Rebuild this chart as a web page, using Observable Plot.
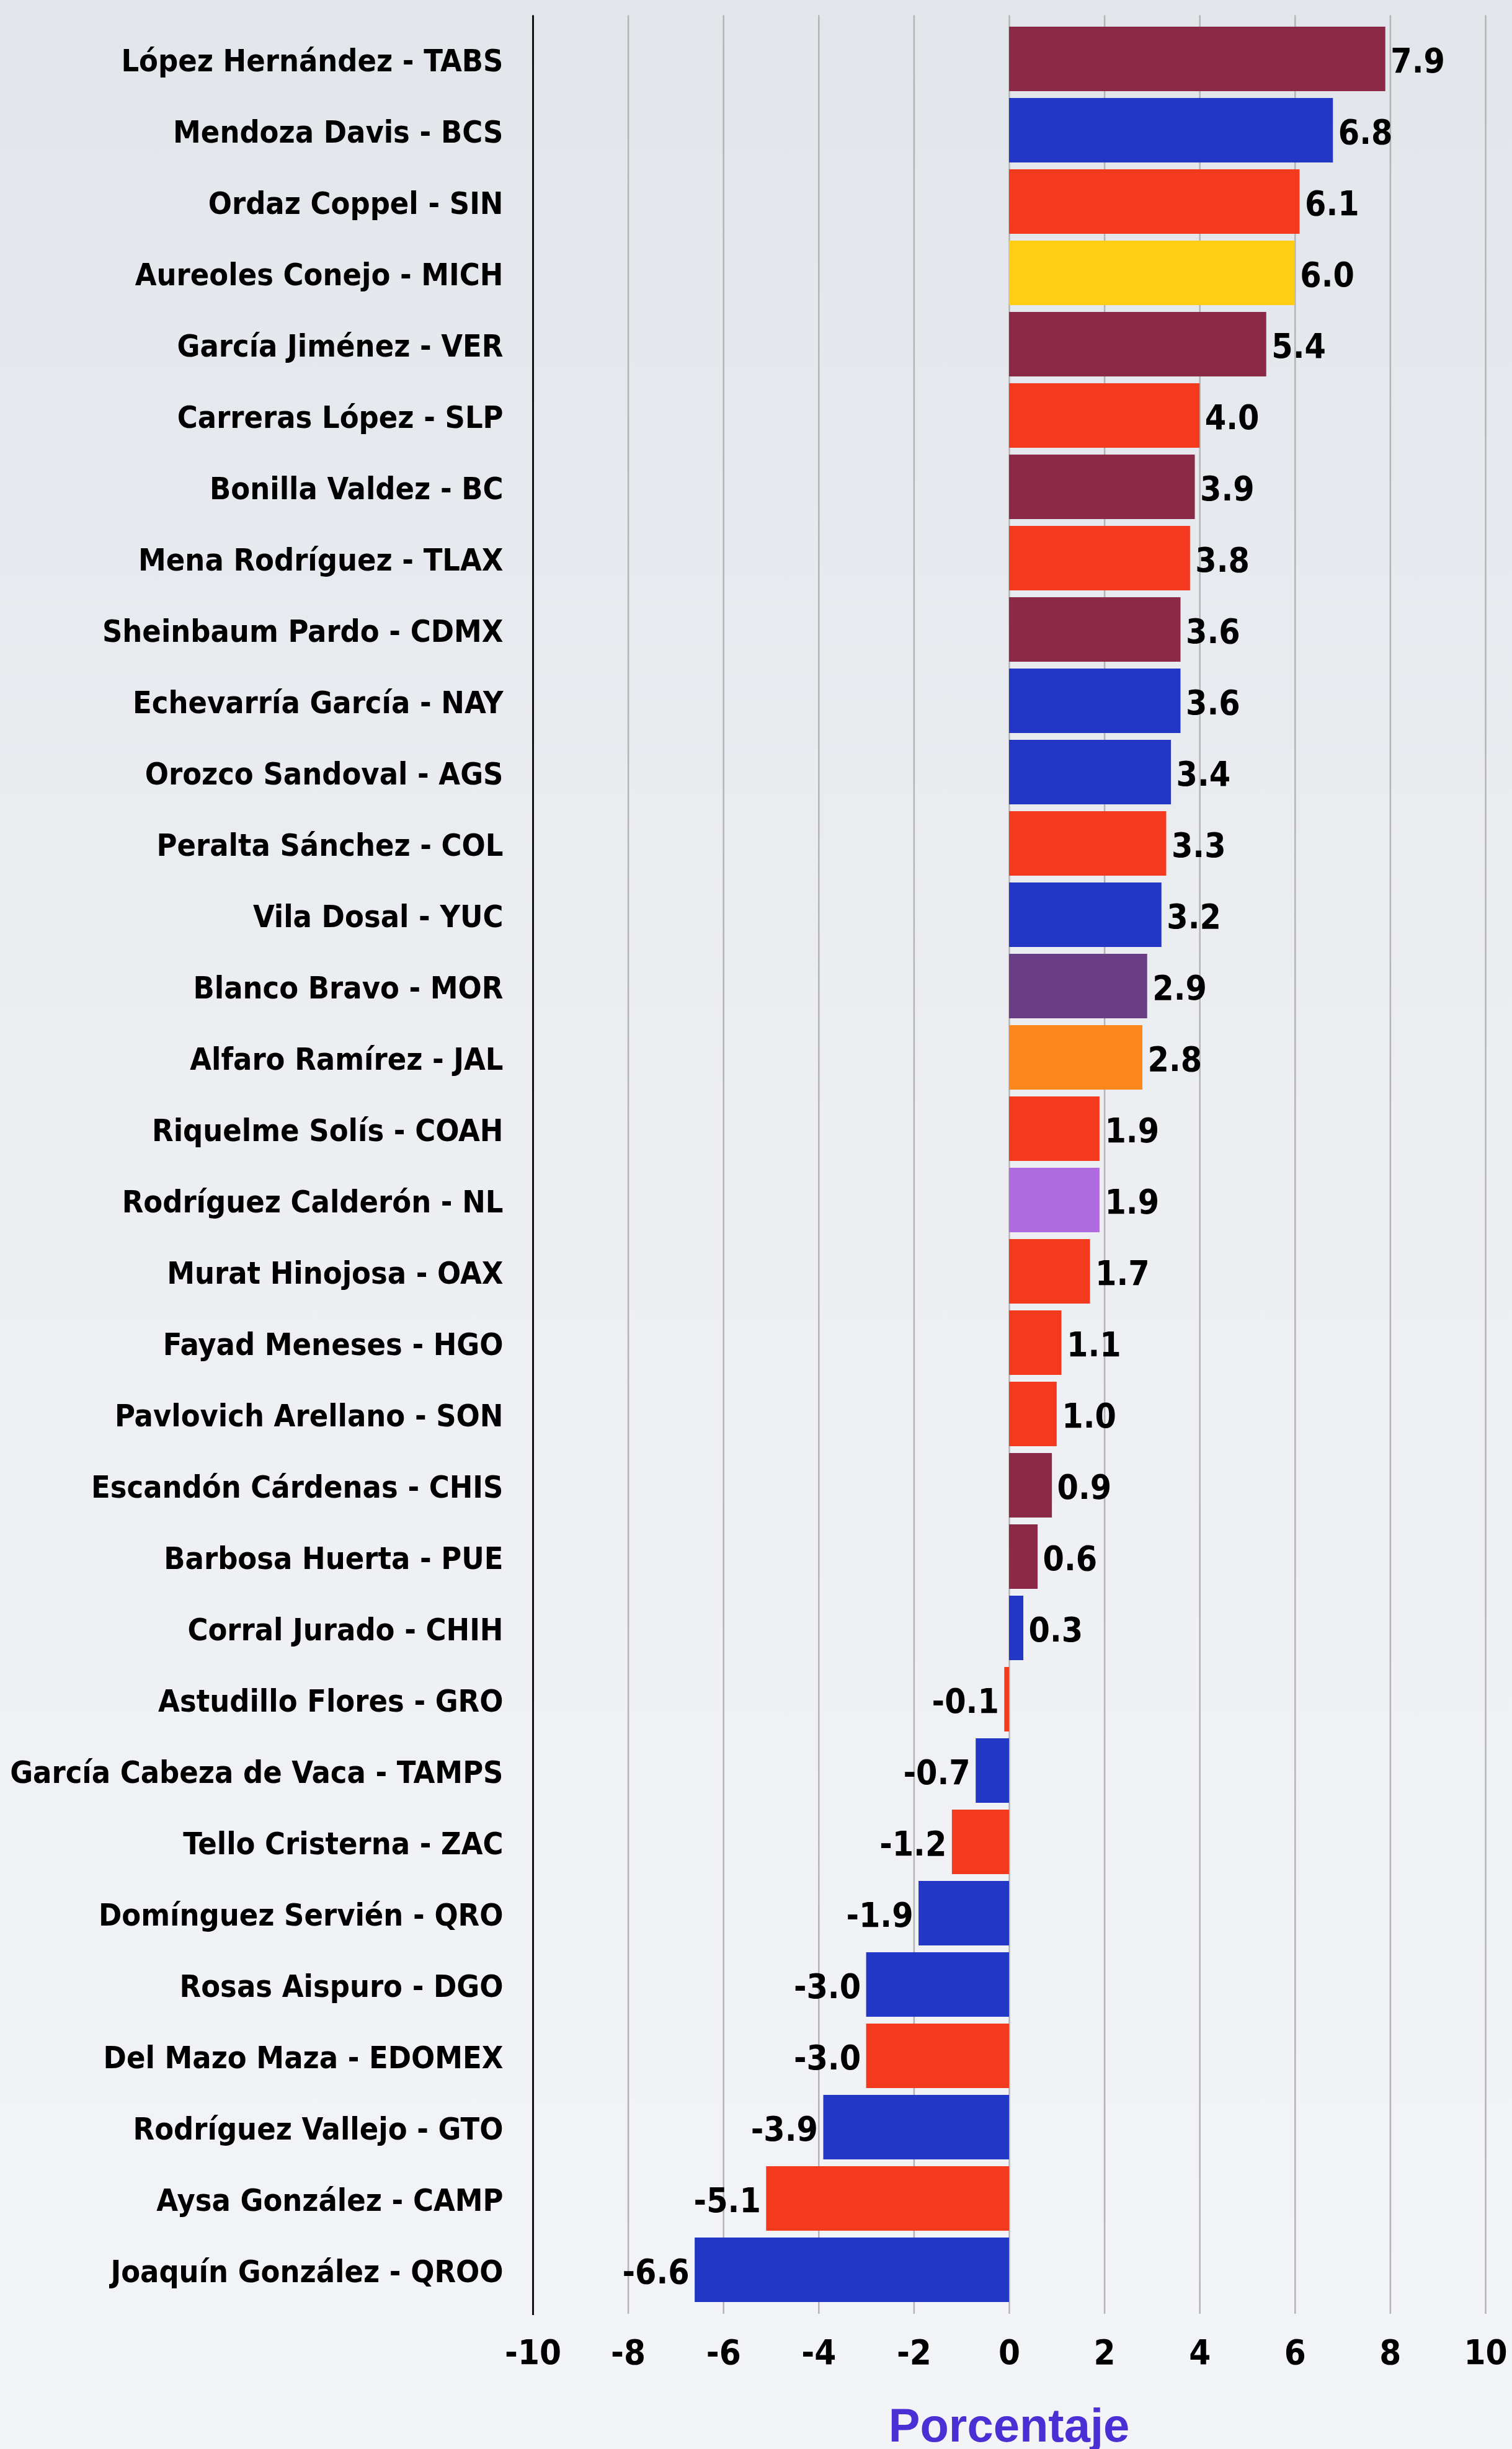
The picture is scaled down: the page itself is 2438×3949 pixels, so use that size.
<!DOCTYPE html>
<html>
<head>
<meta charset="utf-8">
<script src="https://cdn.jsdelivr.net/npm/d3@7"></script>
<script src="https://cdn.jsdelivr.net/npm/@observablehq/plot@0.6"></script>
<style>
  html, body { margin: 0; padding: 0; }
  body {
    width: 2438px; height: 3949px; overflow: hidden;
    background: linear-gradient(to bottom, #e2e5ea 0%, #eceef2 45%, #f3f4f7 100%);
  }
  #chart svg { display: block; }
  #xlabel {
    width: 2438px; text-align: center; box-sizing: border-box;
    padding-left: 816px; padding-right: 0;
    font-family: "Liberation Sans", Arial, sans-serif; font-weight: bold;
    font-size: 76px; line-height: 76px; padding-top: 33px;
    color: #4a30d4;
  }
</style>
</head>
<body>
<div id="chart"></div>
<div id="xlabel">Porcentaje</div>
<script>
const names = [
  "López Hernández - TABS", "Mendoza Davis - BCS", "Ordaz Coppel - SIN", "Aureoles Conejo - MICH",
  "García Jiménez - VER", "Carreras López - SLP", "Bonilla Valdez - BC", "Mena Rodríguez - TLAX",
  "Sheinbaum Pardo - CDMX", "Echevarría García - NAY", "Orozco Sandoval - AGS", "Peralta Sánchez - COL",
  "Vila Dosal - YUC", "Blanco Bravo - MOR", "Alfaro Ramírez - JAL", "Riquelme Solís - COAH",
  "Rodríguez Calderón - NL", "Murat Hinojosa - OAX", "Fayad Meneses - HGO", "Pavlovich Arellano - SON",
  "Escandón Cárdenas - CHIS", "Barbosa Huerta - PUE", "Corral Jurado - CHIH", "Astudillo Flores - GRO",
  "García Cabeza de Vaca - TAMPS", "Tello Cristerna - ZAC", "Domínguez Servién - QRO", "Rosas Aispuro - DGO",
  "Del Mazo Maza - EDOMEX", "Rodríguez Vallejo - GTO", "Aysa González - CAMP", "Joaquín González - QROO"
];
const values = [
  7.9, 6.8, 6.1, 6.0, 5.4, 4.0, 3.9, 3.8, 3.6, 3.6, 3.4, 3.3, 3.2, 2.9, 2.8, 1.9,
  1.9, 1.7, 1.1, 1.0, 0.9, 0.6, 0.3, -0.1, -0.7, -1.2, -1.9, -3.0, -3.0, -3.9, -5.1, -6.6
];
const parties = [
  "MORENA", "PAN", "PRI", "PRD", "MORENA", "PRI", "MORENA", "PRI",
  "MORENA", "PAN", "PAN", "PRI", "PAN", "PES", "MC", "PRI",
  "IND", "PRI", "PRI", "PRI", "MORENA", "MORENA", "PAN", "PRI",
  "PAN", "PRI", "PAN", "PAN", "PRI", "PAN", "PRI", "PAN"
];
const partyColors = {
  MORENA: "#8a2a47", PAN: "#2337c6", PRI: "#f33a1f", PRD: "#fecd14",
  PES: "#6a3e85", MC: "#fe871b", IND: "#b06be0"
};
const xTicks = [-10, -8, -6, -4, -2, 0, 2, 4, 6, 8, 10];

const data = names.map((n, i) => ({ name: n, value: values[i], color: partyColors[parties[i]] }));
const pos = data.filter(d => d.value >= 0);
const neg = data.filter(d => d.value < 0);

const chart = Plot.plot({
  width: 2438,
  height: 3840,
  marginLeft: 859,
  marginRight: 43,
  marginTop: 31.5,
  marginBottom: 117,
  x: { domain: [-10, 10] },
  y: { domain: names, padding: 0.1 },
  color: { type: "identity" },
  style: {
    background: "transparent",
    fontFamily: "'DejaVu Sans Condensed', 'DejaVu Sans', sans-serif",
    fontStretch: "condensed",
    fontWeight: "bold",
    color: "black"
  },
  marks: [
    Plot.ruleX(xTicks.filter(d => d > -10), { stroke: "#b4b4b4", strokeWidth: 2.5, insetTop: -7, insetBottom: -8 }),
    Plot.barX(data, { x: "value", y: "name", fill: "color" }),
    Plot.ruleX([-10], { stroke: "#111", strokeWidth: 3, insetTop: -7, insetBottom: -10 }),
    Plot.axisX({ ticks: xTicks, tickSize: 0, tickPadding: 49, fontSize: 56, label: null, tickFormat: d => String(d) }),
    Plot.axisY({ tickSize: 0, tickPadding: 48, fontSize: 50, dy: 3, label: null }),
    Plot.text(pos, { x: "value", y: "name", text: d => d.value.toFixed(1), textAnchor: "start", dx: 8, dy: 4, fontSize: 55, fill: "black" }),
    Plot.text(neg, { x: "value", y: "name", text: d => d.value.toFixed(1), textAnchor: "end", dx: -9, dy: 4, fontSize: 55, fill: "black" })
  ]
});
document.getElementById("chart").appendChild(chart);
</script>
</body>
</html>
